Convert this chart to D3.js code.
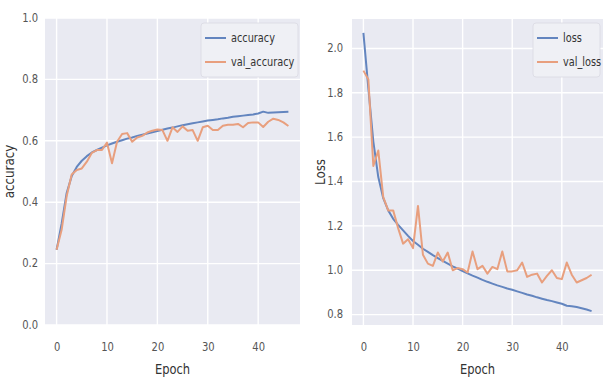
<!DOCTYPE html>
<html>
<head>
<meta charset="utf-8">
<script src="https://cdn.jsdelivr.net/npm/d3@7"></script>
<style>
  html, body { margin: 0; padding: 0; background: #ffffff; }
  svg { display: block; }
  text { font-family: "DejaVu Sans", "Liberation Sans", sans-serif; }
</style>
</head>
<body>
<svg id="chart" width="605" height="380"></svg>
<script>
// ---- data ----
const epochs = d3.range(0, 47);
const accuracy = [0.245, 0.33, 0.43, 0.485, 0.515, 0.535, 0.55, 0.562, 0.57, 0.578,
  0.585, 0.591, 0.597, 0.602, 0.607, 0.611, 0.616, 0.620, 0.624, 0.628,
  0.632, 0.636, 0.640, 0.643, 0.647, 0.651, 0.654, 0.657, 0.660, 0.663,
  0.666, 0.668, 0.670, 0.673, 0.675, 0.678, 0.680, 0.682, 0.684, 0.686,
  0.689, 0.695, 0.691, 0.692, 0.693, 0.694, 0.695];
const valAccuracy = [0.245, 0.31, 0.42, 0.49, 0.505, 0.51, 0.532, 0.561, 0.57, 0.57,
  0.594, 0.527, 0.597, 0.622, 0.625, 0.597, 0.611, 0.616, 0.627, 0.633,
  0.637, 0.635, 0.600, 0.644, 0.629, 0.647, 0.633, 0.635, 0.600, 0.644,
  0.649, 0.635, 0.635, 0.649, 0.652, 0.652, 0.655, 0.644, 0.658, 0.660,
  0.660, 0.645, 0.662, 0.672, 0.668, 0.660, 0.648];
const loss = [2.07, 1.82, 1.58, 1.42, 1.325, 1.27, 1.232, 1.205, 1.18, 1.155,
  1.132, 1.115, 1.097, 1.083, 1.068, 1.055, 1.042, 1.030, 1.018, 1.007,
  0.996, 0.986, 0.976, 0.967, 0.957, 0.948, 0.940, 0.932, 0.925, 0.918,
  0.912, 0.905, 0.898, 0.891, 0.885, 0.878, 0.872, 0.866, 0.861, 0.855,
  0.849, 0.840, 0.838, 0.834, 0.829, 0.823, 0.816];
const valLoss = [1.90, 1.86, 1.47, 1.54, 1.33, 1.27, 1.27, 1.19, 1.12, 1.14,
  1.10, 1.29, 1.07, 1.03, 1.02, 1.08, 1.04, 1.08, 1.00, 1.01,
  1.005, 0.99, 1.085, 1.005, 1.02, 0.985, 1.015, 1.005, 1.085, 0.995,
  0.995, 1.00, 1.035, 0.97, 0.98, 0.985, 0.945, 0.975, 1.00, 0.965,
  0.96, 1.035, 0.98, 0.945, 0.955, 0.965, 0.98];
const xTicks = [0, 10, 20, 30, 40];
const accTicks = [0.0, 0.2, 0.4, 0.6, 0.8, 1.0];
const lossTicks = [0.8, 1.0, 1.2, 1.4, 1.6, 1.8, 2.0];
const accLegend = ["accuracy", "val_accuracy"];
const lossLegend = ["loss", "val_loss"];

// ---- styles ----
const C_BG = "#e9eaf2";
const C_BLUE = "#6385bf";
const C_ORANGE = "#e89f7e";
const C_TICK = "#555555";

const svg = d3.select("#chart");

function panel(opts) {
  const g = svg.append("g");
  const x = d3.scaleLinear().domain([-2.3, 48.3]).range([opts.left, opts.right]);
  const y = d3.scaleLinear().domain(opts.yDomain).range([opts.bottom, opts.top]);

  g.append("rect")
    .attr("x", opts.left).attr("y", opts.top)
    .attr("width", opts.right - opts.left).attr("height", opts.bottom - opts.top)
    .attr("fill", C_BG);

  // grid
  const grid = g.append("g");
  grid.selectAll("line.vx").data(xTicks).join("line")
    .attr("x1", d => x(d)).attr("x2", d => x(d))
    .attr("y1", opts.top).attr("y2", opts.bottom)
    .attr("stroke", "#ffffff").attr("stroke-width", 1.4);
  grid.selectAll("line.hy").data(opts.yTicks).join("line")
    .attr("y1", d => y(d)).attr("y2", d => y(d))
    .attr("x1", opts.left).attr("x2", opts.right)
    .attr("stroke", "#ffffff").attr("stroke-width", 1.4);

  // axes via d3 axis (no domain/tick lines)
  const xAxis = g.append("g")
    .attr("transform", `translate(0,${opts.bottom})`)
    .call(d3.axisBottom(x).tickValues(xTicks).tickFormat(d3.format("d")).tickSize(0).tickPadding(0));
  xAxis.select(".domain").remove();
  xAxis.selectAll("text")
    .attr("y", 0).attr("x", 0).attr("dy", null)
    .attr("fill", C_TICK).attr("font-size", 12.5)
    .attr("transform", "translate(0,23) scale(0.8,1)")
    .attr("dominant-baseline", "middle");

  const yAxis = g.append("g")
    .attr("transform", `translate(${opts.tickRight},0)`)
    .call(d3.axisLeft(y).tickValues(opts.yTicks).tickFormat(d3.format(".1f")).tickSize(0).tickPadding(0));
  yAxis.select(".domain").remove();
  yAxis.selectAll("text")
    .attr("x", 0).attr("dy", null)
    .attr("fill", C_TICK).attr("font-size", 12.5)
    .attr("dominant-baseline", "middle")
    .attr("transform", "scale(0.8,1)");

  // axis labels
  g.append("text")
    .attr("x", 0).attr("y", 0)
    .attr("transform", `translate(${(opts.left + opts.right) / 2},${370}) scale(0.82,1)`)
    .attr("text-anchor", "middle").attr("dominant-baseline", "middle")
    .attr("font-size", 14).attr("fill", "#333333")
    .text("Epoch");
  g.append("text")
    .attr("transform", `translate(${opts.yLabelX},${(opts.top + opts.bottom) / 2}) rotate(-90) scale(0.85,1)`)
    .attr("text-anchor", "middle").attr("dominant-baseline", "middle")
    .attr("font-size", 14).attr("fill", "#333333")
    .text(opts.yLabel);

  // lines
  const clipId = "clip" + opts.id;
  svg.append("clipPath").attr("id", clipId).append("rect")
    .attr("x", opts.left).attr("y", opts.top)
    .attr("width", opts.right - opts.left).attr("height", opts.bottom - opts.top);
  const line = d3.line().x((d, i) => x(epochs[i])).y(d => y(d));
  const series = [[opts.s1, C_BLUE], [opts.s2, C_ORANGE]];
  g.append("g").attr("clip-path", `url(#${clipId})`)
    .selectAll("path").data(series).join("path")
    .attr("d", d => line(d[0]))
    .attr("fill", "none").attr("stroke", d => d[1])
    .attr("stroke-width", 2).attr("stroke-linejoin", "round");

  // legend
  const lg = g.append("g");
  lg.append("rect")
    .attr("x", opts.legX).attr("y", 23)
    .attr("width", opts.legW).attr("height", 54)
    .attr("rx", 3)
    .attr("fill", "#eff0f5").attr("stroke", "#d9d9e2").attr("stroke-width", 0.8);
  opts.legend.forEach((name, i) => {
    const yy = 38 + i * 24;
    lg.append("line")
      .attr("x1", opts.legX + 4).attr("x2", opts.legX + 25)
      .attr("y1", yy).attr("y2", yy)
      .attr("stroke", i === 0 ? C_BLUE : C_ORANGE).attr("stroke-width", 2);
    lg.append("text")
      .attr("transform", `translate(${opts.legX + 30},${yy}) scale(0.75,1)`)
      .attr("dominant-baseline", "middle")
      .attr("font-size", 13).attr("fill", "#333333")
      .text(name);
  });
}

panel({
  id: "a", left: 45, right: 300, top: 18, bottom: 325,
  yDomain: [0, 1], yTicks: accTicks, tickRight: 38, yLabelX: 10,
  yLabel: "accuracy", s1: accuracy, s2: valAccuracy,
  legend: accLegend, legX: 201, legW: 97
});

// loss y-domain from data with 5% margins
const lmin = d3.min(loss.concat(valLoss)), lmax = d3.max(loss.concat(valLoss));
const lpad = (lmax - lmin) * 0.05;
panel({
  id: "b", left: 352, right: 603, top: 19, bottom: 325,
  yDomain: [lmin - lpad, lmax + lpad], yTicks: lossTicks, tickRight: 343, yLabelX: 321,
  yLabel: "Loss", s1: loss, s2: valLoss,
  legend: lossLegend, legX: 533, legW: 67
});
</script>
</body>
</html>
